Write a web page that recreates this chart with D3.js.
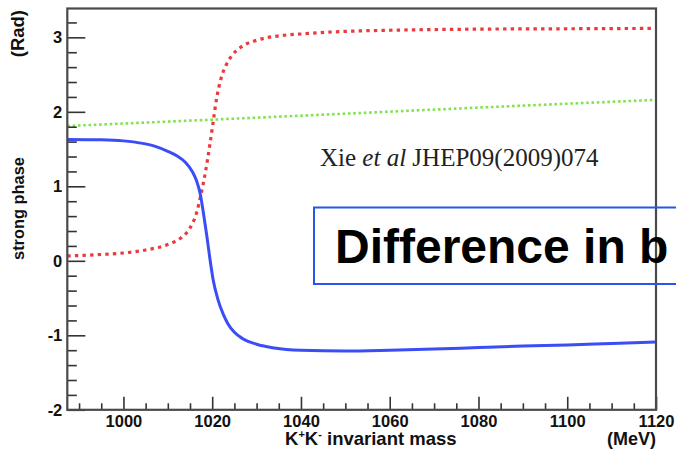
<!DOCTYPE html>
<html>
<head>
<meta charset="utf-8">
<script src="https://cdn.jsdelivr.net/npm/d3@7"></script>
<style>
  html, body { margin: 0; padding: 0; background: #fff; }
  svg { display: block; }
</style>
</head>
<body>
<svg id="chart" width="676" height="454"></svg>
<script>
// Strong phase versus K+K- invariant mass near the phi(1020)

// Blue solid curve: [mass (MeV), phase (rad)]
const bluePhase = [
  [987.35, 1.63], [995, 1.625], [1000, 1.61], [1004, 1.58], [1007, 1.54],
  [1010, 1.47], [1012, 1.41], [1014, 1.32], [1015.5, 1.20], [1016.5, 1.07],
  [1017.3, 0.90], [1018, 0.65], [1018.8, 0.33], [1019.5, 0.02], [1020.2, -0.25],
  [1021.3, -0.52], [1022.5, -0.72], [1023.5, -0.84], [1025, -0.96], [1027, -1.05],
  [1030, -1.12], [1034, -1.17], [1040, -1.20], [1050, -1.21], [1060, -1.20],
  [1070, -1.185], [1080, -1.165], [1090, -1.145], [1100, -1.13], [1110, -1.11],
  [1120, -1.09]
];

// Red dotted curve
const redPhase = [
  [987.35, 0.065], [995, 0.085], [1000, 0.105], [1005, 0.145], [1010, 0.22],
  [1013, 0.31], [1015, 0.44], [1016.5, 0.65], [1017.5, 0.90], [1018.5, 1.20],
  [1019.5, 1.57], [1020.3, 1.90], [1021, 2.18], [1022, 2.45], [1023, 2.61],
  [1024.5, 2.76], [1026.5, 2.87], [1030, 2.96], [1035, 3.02], [1040, 3.045],
  [1050, 3.08], [1060, 3.095], [1080, 3.11], [1100, 3.115], [1120, 3.12]
];

// Green dotted curve
const greenPhase = [
  [987.35, 1.81], [1020, 1.895], [1050, 1.975], [1085, 2.07], [1120, 2.16]
];

const xMajorTicks = [1000, 1020, 1040, 1060, 1080, 1100, 1120];
const xMinorTicks = d3.range(990, 1121, 5).filter(v => v % 20 !== 0);
const yMajorTicks = [-2, -1, 0, 1, 2, 3];
const yMinorTicks = d3.range(-20, 34, 2).map(v => v / 10).filter(v => Math.abs(v - Math.round(v)) > 1e-9);

const xTitle = "invariant mass";
const xUnit = "(MeV)";
const yTitle = "strong phase";
const yUnit = "(Rad)";
const refText = ["Xie ", "et al", " JHEP09(2009)074"];
const boxText = "Difference in b";

const svg = d3.select("#chart");
const frameL = 67.3, frameR = 656, frameT = 8.5, frameB = 409.8;

const x = d3.scaleLinear().domain([987.35, 1120]).range([frameL, frameR]);
const y = d3.scaleLinear().domain([-2, 3.387]).range([frameB, frameT]);

const line = d3.line()
  .x(d => x(d[0]))
  .y(d => y(d[1]))
  .curve(d3.curveMonotoneX);

const plot = svg.append("g");

plot.append("path")
  .datum(greenPhase)
  .attr("d", line)
  .attr("fill", "none")
  .attr("stroke", "#7fe44e")
  .attr("stroke-width", 2.6)
  .attr("stroke-dasharray", "2.6,2.7");

plot.append("path")
  .datum(redPhase)
  .attr("d", line)
  .attr("fill", "none")
  .attr("stroke", "#ea3a3e")
  .attr("stroke-width", 3.2)
  .attr("stroke-dasharray", "3.4,4.2");

plot.append("path")
  .datum(bluePhase)
  .attr("d", line)
  .attr("fill", "none")
  .attr("stroke", "#3a4df6")
  .attr("stroke-width", 3);

// Axes
const tickColor = "#333";
const labelFont = "'Liberation Sans', Arial, Helvetica, sans-serif";

const xAxis = svg.append("g")
  .attr("transform", `translate(0,${frameB})`)
  .call(d3.axisBottom(x).tickValues(xMajorTicks).tickSize(-13).tickPadding(5).tickFormat(d => String(d)));
const xMinor = svg.append("g")
  .attr("transform", `translate(0,${frameB})`)
  .call(d3.axisBottom(x).tickValues(xMinorTicks).tickSize(-6.5).tickFormat(""));

const yAxis = svg.append("g")
  .attr("transform", `translate(${frameL},0)`)
  .call(d3.axisLeft(y).tickValues(yMajorTicks).tickSize(-18).tickPadding(5).tickFormat(d => String(d)));
const yMinor = svg.append("g")
  .attr("transform", `translate(${frameL},0)`)
  .call(d3.axisLeft(y).tickValues(yMinorTicks).tickSize(-9.5).tickFormat(""));

[xAxis, xMinor, yAxis, yMinor].forEach(g => {
  g.select(".domain").remove();
  g.selectAll(".tick line").attr("stroke", tickColor).attr("stroke-width", 1.6);
  g.selectAll(".tick text")
    .attr("fill", "#111")
    .style("font-family", labelFont)
    .style("font-weight", "bold")
    .style("font-size", "16.5px");
});

// Frame
svg.append("rect")
  .attr("x", frameL).attr("y", frameT)
  .attr("width", frameR - frameL).attr("height", frameB - frameT)
  .attr("fill", "none")
  .attr("stroke", "#4a4a4a")
  .attr("stroke-width", 2.2);

// Axis titles
const xt = svg.append("text")
  .attr("x", 285).attr("y", 445)
  .attr("fill", "#111")
  .style("font-family", labelFont).style("font-weight", "bold").style("font-size", "18.5px");
xt.append("tspan").text("K");
xt.append("tspan").attr("dy", -7).style("font-size", "11px").text("+");
xt.append("tspan").attr("dy", 7).text("K");
xt.append("tspan").attr("dy", -7).style("font-size", "11px").text("-");
xt.append("tspan").attr("dy", 7).text(" " + xTitle);

svg.append("text")
  .attr("x", 656).attr("y", 445)
  .attr("text-anchor", "end")
  .attr("fill", "#111")
  .style("font-family", labelFont).style("font-weight", "bold").style("font-size", "18px")
  .text(xUnit);

svg.append("text")
  .attr("transform", "translate(24,208.5) rotate(-90)")
  .attr("text-anchor", "middle")
  .attr("fill", "#111")
  .style("font-family", labelFont).style("font-weight", "bold").style("font-size", "16.4px")
  .text(yTitle);

svg.append("text")
  .attr("transform", "translate(24,10) rotate(-90)")
  .attr("text-anchor", "end")
  .attr("fill", "#111")
  .style("font-family", labelFont).style("font-weight", "bold").style("font-size", "18.5px")
  .text(yUnit);

// Reference note
const note = svg.append("text")
  .attr("x", 320).attr("y", 166)
  .attr("fill", "#222")
  .style("font-family", "'Liberation Serif', 'Times New Roman', serif")
  .style("font-size", "25px");
note.append("tspan").text(refText[0]);
note.append("tspan").style("font-style", "italic").text(refText[1]);
note.append("tspan").text(refText[2]);

// Boxed caption
svg.append("rect")
  .attr("x", 314).attr("y", 207.5)
  .attr("width", 400).attr("height", 76.5)
  .attr("fill", "none")
  .attr("stroke", "#2a55e8")
  .attr("stroke-width", 2);

svg.append("text")
  .attr("x", 335).attr("y", 263)
  .attr("fill", "#000")
  .style("font-family", labelFont).style("font-weight", "bold").style("font-size", "48px")
  .text(boxText);
</script>
</body>
</html>
